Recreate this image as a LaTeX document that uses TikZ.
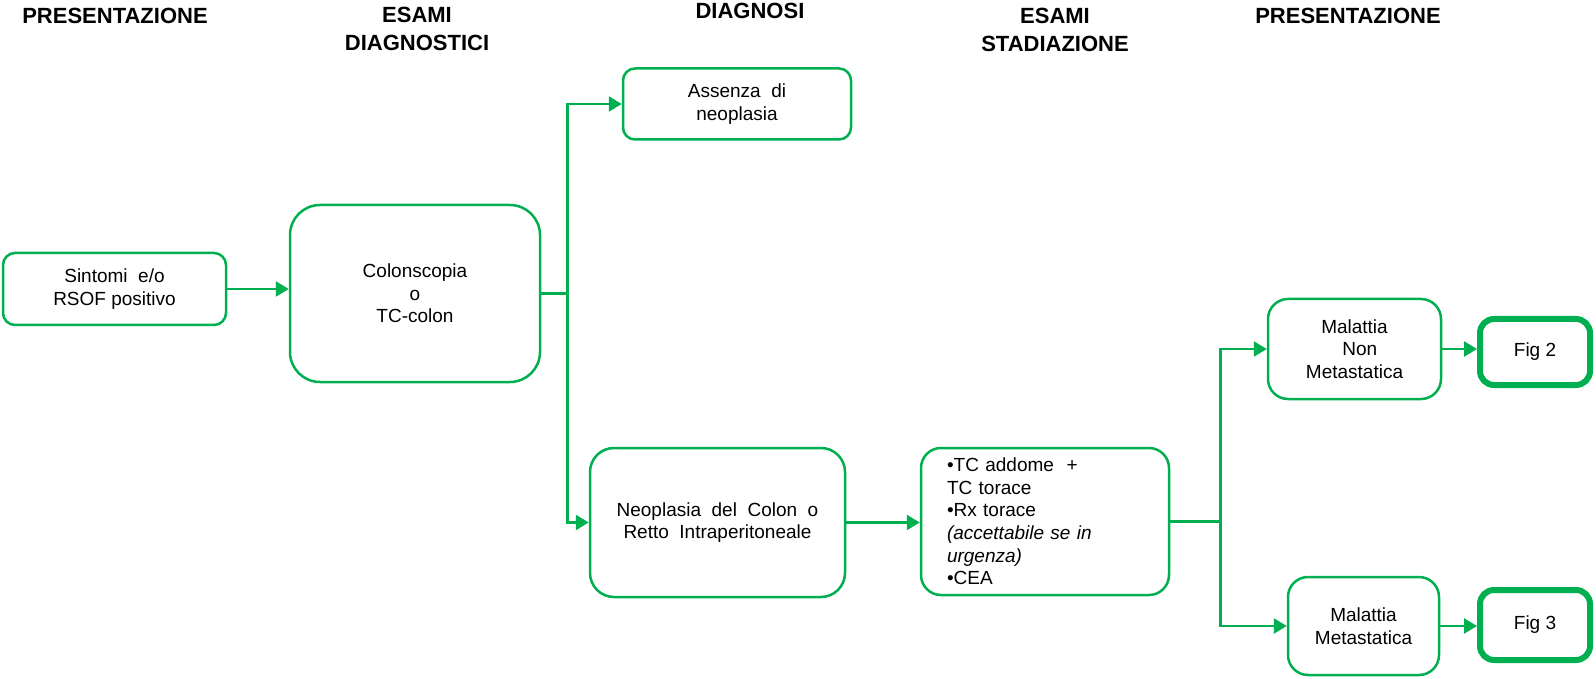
\documentclass[tikz,border=0pt]{standalone}
\usepackage{fontspec}
\setmainfont{Liberation Sans}
\usetikzlibrary{arrows.meta}
\definecolor{flowgreen}{HTML}{00B050}
\begin{document}
\begin{tikzpicture}[x=0.5pt,y=-0.5pt,
  bodyfont/.style={font=\fontsize{9.5}{11.3}\selectfont},
  box/.style={draw=flowgreen, line width=1.25pt, rounded corners=#1, align=center, bodyfont, inner sep=2pt},
  box/.default=6pt,
  figbox/.style={draw=flowgreen, line width=3pt, rounded corners=7pt, bodyfont, inner sep=2pt},
  head/.style={font=\bfseries\fontsize{11}{14}\selectfont, align=center, inner sep=0pt},
  link/.style={draw=flowgreen, line width=1.25pt, -{Triangle[length=6.5pt,width=7.5pt]}},
  wire/.style={draw=flowgreen, line width=1.25pt}
]
\useasboundingbox (0,0) rectangle (1596,679);

% column headings
\node[head] (h1) at (115,16) {PRESENTAZIONE};
\node[head] (h2) at (417,29) {ESAMI\\DIAGNOSTICI};
\node[head] (h3) at (750,11) {DIAGNOSI};
\node[head] (h4) at (1055,30) {ESAMI\\STADIAZIONE};
\node[head] (h5) at (1348,16) {PRESENTAZIONE};

% flow boxes
\node[box, minimum width=111.5pt, minimum height=36pt] (sym) at (114.5,289)
  {Sintomi\ \ e/o\\RSOF positivo};
\node[box=15pt, minimum width=125pt, minimum height=88.5pt] (colon) at (415,293.5)
  {Colonscopia\\o\\TC-colon};
\node[box, minimum width=114pt, minimum height=35.5pt] (absent) at (737,104)
  {Assenza\ \ di\\neoplasia};
\node[box=12pt, minimum width=127.5pt, minimum height=74.5pt] (neo) at (717.5,522.5)
  {Neoplasia\ \ del\ \ Colon\ \ o\\Retto\ \ Intraperitoneale};
\node[box=10pt, align=left, text width=98pt, inner xsep=13pt, inner ysep=0pt,
      minimum height=73.5pt] (tc) at (1045,521.5)
  {•TC addome\ \ +\\TC torace\\•Rx torace\\\textit{(accettabile se in}\\\textit{urgenza)}\\•CEA};
\node[box=10pt, minimum width=86.5pt, minimum height=50pt] (nm) at (1354.5,349)
  {Malattia\\\ \ Non\\Metastatica};
\node[box=10pt, minimum width=75.5pt, minimum height=49pt] (met) at (1363.5,626)
  {Malattia\\Metastatica};
\node[figbox, minimum width=55pt, minimum height=33pt] (fig2) at (1535,352) {Fig 2};
\node[figbox, minimum width=55pt, minimum height=35pt] (fig3) at (1535,625) {Fig 3};

% connectors
\draw[link] (sym.east) -- (sym.east -| colon.west);
\draw[wire] (colon.east) -- ++(26,0) coordinate (j1);
\draw[link] (j1) |- (absent.west);
\draw[link] (j1) |- (neo.west);
\draw[link] (neo.east) -- (neo.east -| tc.west);
\draw[wire] (tc.east) -- ++(50,0) coordinate (j2);
\draw[link] (j2) |- (nm.west);
\draw[link] (j2) |- (met.west);
\draw[link] (nm.east) -- (nm.east -| fig2.west);
\draw[link] (met.east) -- (met.east -| fig3.west);
\end{tikzpicture}
\end{document}
